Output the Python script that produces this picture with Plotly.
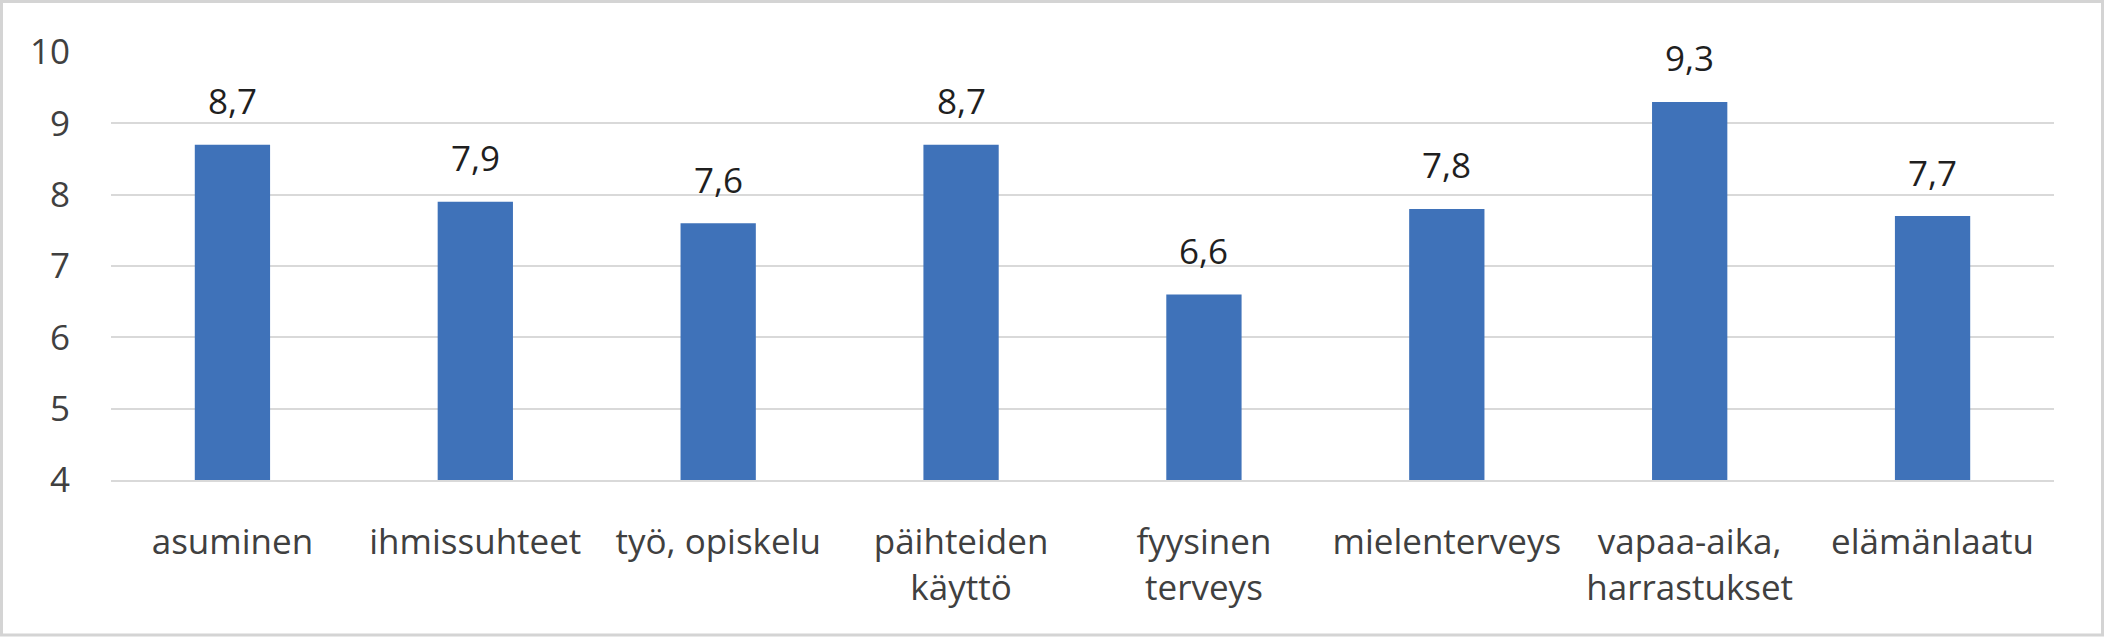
import plotly.graph_objects as go

# chart data
categories = [
    "asuminen",
    "ihmissuhteet",
    "työ, opiskelu",
    "päihteiden<br>käyttö",
    "fyysinen<br>terveys",
    "mielenterveys",
    "vapaa-aika,<br>harrastukset",
    "elämänlaatu",
]
scores = [8.7, 7.9, 7.6, 8.7, 6.6, 7.8, 9.3, 7.7]
y_ticks = [4, 5, 6, 7, 8, 9, 10]

labels = [f"{v:.1f}".replace(".", ",") for v in scores]

W, H = 2106, 638
L, R, T, B = 111, 52, 52, 158
plot_w = W - L - R
plot_h = H - T - B

FONT = "Open Sans, Noto Sans, sans-serif"
FS = 35

fig = go.Figure()
fig.add_trace(
    go.Bar(
        x=categories,
        y=scores,
        base=0,
        marker=dict(color="#3f72b9", line=dict(width=0)),
        width=0.31,
        hoverinfo="x+y",
    )
)

# value labels sit well above the bar tops, like the original
for cat, val, lab in zip(categories, scores, labels):
    fig.add_annotation(
        x=cat,
        y=val,
        text=lab,
        showarrow=False,
        yanchor="middle",
        yshift=44,
        font=dict(family=FONT, size=FS, color="#1f1f1f"),
    )

fig.update_layout(
    width=W,
    height=H,
    margin=dict(l=L, r=R, t=T, b=B),
    paper_bgcolor="white",
    plot_bgcolor="white",
    showlegend=False,
    font=dict(family=FONT, size=FS, color="#404040"),
    shapes=[
        dict(
            type="rect",
            xref="paper",
            yref="paper",
            x0=-(L - 1.5) / plot_w,
            x1=1 + (R - 3.5) / plot_w,
            y0=-(B - 3) / plot_h,
            y1=1 + (T - 1.5) / plot_h,
            line=dict(color="#d4d4d4", width=3),
            layer="below",
        )
    ],
)

fig.update_xaxes(
    showgrid=False,
    showline=True,
    linecolor="#d9d9d9",
    linewidth=2,
    zeroline=False,
    ticks="",
    tickangle=0,
    ticklabelstandoff=30,
    tickfont=dict(family=FONT, size=FS, color="#404040"),
)
fig.update_yaxes(
    range=[4, 10],
    tickvals=y_ticks,
    showgrid=True,
    gridcolor="#d9d9d9",
    gridwidth=2,
    zeroline=False,
    showline=False,
    ticks="",
    ticklabelstandoff=40,
    tickfont=dict(family=FONT, size=FS, color="#404040"),
)

# drop the default page margin so the figure sits at the window corner
fig.write_html(
    "out.html",
    config={"displayModeBar": False},
    post_script="document.body.style.margin='0';",
)
